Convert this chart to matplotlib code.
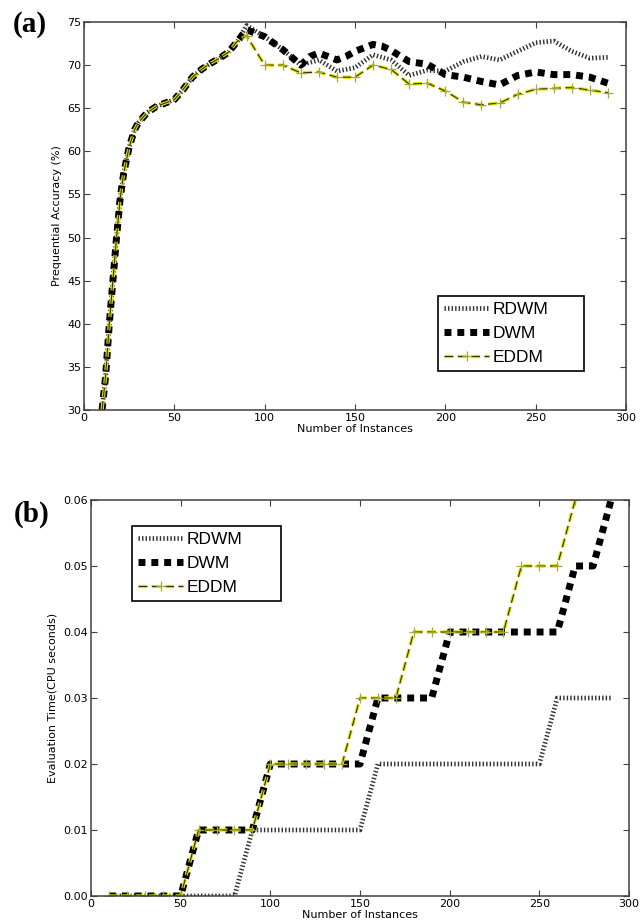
import matplotlib
matplotlib.use("Agg")
import matplotlib.pyplot as plt
from matplotlib.ticker import FormatStrFormatter

# --------------------------------------------------
# Data
# --------------------------------------------------

# shared early rise of the accuracy curves
rise_x = [10, 12, 14, 16, 18, 20, 22, 25, 28, 30, 35, 40, 45,
          50, 55, 60, 65, 70, 75, 80, 85]
rise_acc = [30.0, 34.0, 40.0, 45.0, 50.0, 54.5, 57.5, 60.5, 62.5,
            63.3, 64.5, 65.2, 65.6, 66.0, 67.2, 68.6, 69.5, 70.2,
            70.8, 71.5, 72.8]

rdwm_x = [90, 100, 110, 120, 130, 140, 150, 160, 170, 180, 190,
          200, 210, 220, 230, 240, 250, 260, 270, 280, 290]
rdwm_acc = [74.6, 73.3, 71.8, 70.0, 70.6, 69.3, 69.7, 71.2, 70.6,
            68.8, 69.4, 69.3, 70.4, 71.0, 70.6, 71.6, 72.6, 72.8,
            71.6, 70.8, 70.9]

dwm_x = [90, 100, 110, 120, 125, 130, 140, 145, 150, 160, 165, 170,
         180, 190, 200, 210, 220, 230, 240, 250, 260, 270, 280, 290]
dwm_acc = [74.1, 73.3, 71.8, 70.0, 71.0, 71.4, 70.6, 71.0, 71.6,
           72.4, 72.2, 71.7, 70.4, 70.1, 68.9, 68.6, 68.1, 67.7,
           68.8, 69.2, 68.9, 68.9, 68.6, 67.9]

eddm_x = [90, 100, 110, 120, 130, 140, 150, 160, 170, 180, 190,
          200, 210, 220, 230, 240, 250, 260, 270, 280, 290]
eddm_acc = [73.4, 70.0, 70.0, 69.1, 69.2, 68.6, 68.6, 70.0, 69.5,
            67.8, 67.9, 67.0, 65.7, 65.4, 65.6, 66.6, 67.2, 67.3,
            67.4, 67.1, 66.8]

time_x = [10, 20, 30, 40, 50, 60, 70, 80, 90, 100, 110, 120, 130,
          140, 150, 160, 170, 180, 190, 200, 210, 220, 230, 240,
          250, 260, 270, 280, 290]
rdwm_time = [0, 0, 0, 0, 0, 0, 0, 0, 0.01, 0.01, 0.01, 0.01, 0.01,
             0.01, 0.01, 0.02, 0.02, 0.02, 0.02, 0.02, 0.02, 0.02,
             0.02, 0.02, 0.02, 0.03, 0.03, 0.03, 0.03]
dwm_time = [0, 0, 0, 0, 0, 0.01, 0.01, 0.01, 0.01, 0.02, 0.02, 0.02,
            0.02, 0.02, 0.02, 0.03, 0.03, 0.03, 0.03, 0.04, 0.04,
            0.04, 0.04, 0.04, 0.04, 0.04, 0.05, 0.05, 0.06]
eddm_time = [0, 0, 0, 0, 0, 0.01, 0.01, 0.01, 0.01, 0.02, 0.02, 0.02,
             0.02, 0.02, 0.03, 0.03, 0.03, 0.04, 0.04, 0.04, 0.04,
             0.04, 0.04, 0.05, 0.05, 0.05, 0.06]

LABELS = ["RDWM", "DWM", "EDDM"]

# --------------------------------------------------
# Styles
# --------------------------------------------------

RDWM_STYLE = dict(color="0.2", linewidth=3.4, dashes=(0.3, 0.45),
                  dash_capstyle="butt")
DWM_STYLE = dict(color="black", linewidth=5.0, dashes=(1.0, 0.85),
                 dash_capstyle="butt")
# EDDM: yellow dashes with a thin dark core and "+" markers
EDDM_UNDER = dict(color="#e4e400", linewidth=2.4, dashes=(2.67, 1.33))
EDDM_CORE = dict(color="#303000", linewidth=0.8, dashes=(8, 4),
                 marker="+", markersize=7.5, markeredgewidth=0.9,
                 markeredgecolor="#a8a838")

plt.rcParams["font.family"] = "DejaVu Sans"
plt.rcParams["font.size"] = 8

fig = plt.figure(figsize=(6.41, 9.23), dpi=100)

ax1 = fig.add_axes([84 / 641, 1 - 410 / 923, 542 / 641, 388 / 923])
ax2 = fig.add_axes([91 / 641, 1 - 896 / 923, 538 / 641, 396 / 923])


def style_axes(ax):
    for s in ax.spines.values():
        s.set_linewidth(1.1)
        s.set_color("0.25")
    ax.tick_params(direction="in", top=True, right=True, length=4,
                   width=0.8, color="0.25", labelsize=8, pad=2)


def add_legend(ax, left, top, width, height, handles):
    leg = ax.legend(handles, LABELS, loc="upper left",
                    bbox_to_anchor=(left / 641, 1 - (top + height) / 923,
                                    width / 641, height / 923),
                    bbox_transform=fig.transFigure, borderaxespad=0,
                    mode="expand", fancybox=False, edgecolor="black",
                    framealpha=1,
                    prop={"family": "Liberation Sans", "size": 12.5},
                    handlelength=2.6, handletextpad=0.2, labelspacing=0.5,
                    borderpad=0.35)
    leg.get_frame().set_linewidth(1.2)
    return leg


# --------------------------------------------------
# Panel (a)
# --------------------------------------------------

ra, = ax1.plot(rise_x + rdwm_x, rise_acc + rdwm_acc, **RDWM_STYLE)
da, = ax1.plot(rise_x + dwm_x, rise_acc + dwm_acc, **DWM_STYLE)
ya, = ax1.plot(rise_x + eddm_x, rise_acc + eddm_acc, **EDDM_UNDER)
ka, = ax1.plot(rise_x + eddm_x, rise_acc + eddm_acc,
               markevery=list(range(len(rise_x), len(rise_x) + len(eddm_x))),
               **EDDM_CORE)

ax1.set_xlim(0, 300)
ax1.set_ylim(30, 75)
ax1.set_yticks(range(30, 76, 5))
ax1.set_xticks(range(0, 301, 50))
ax1.set_xlabel("Number of Instances", labelpad=1)
ax1.set_ylabel("Prequential Accuracy (%)", labelpad=4)
style_axes(ax1)

add_legend(ax1, 438, 296, 146, 78, [ra, da, (ya, ka)])

# --------------------------------------------------
# Panel (b)
# --------------------------------------------------

rb, = ax2.plot(time_x, rdwm_time, **RDWM_STYLE)
db, = ax2.plot(time_x, dwm_time, **DWM_STYLE)
yb, = ax2.plot(time_x[:len(eddm_time)], eddm_time, **EDDM_UNDER)
kb, = ax2.plot(time_x[:len(eddm_time)], eddm_time, **EDDM_CORE)

ax2.set_xlim(0, 300)
ax2.set_ylim(0, 0.06)
ax2.set_yticks([0, 0.01, 0.02, 0.03, 0.04, 0.05, 0.06])
ax2.set_xticks(range(0, 301, 50))
ax2.yaxis.set_major_formatter(FormatStrFormatter("%.2f"))
ax2.set_xlabel("Number of Instances", labelpad=1)
ax2.set_ylabel("Evaluation Time(CPU seconds)", labelpad=4)
style_axes(ax2)

add_legend(ax2, 132, 526, 149, 77, [rb, db, (yb, kb)])

# panel letters
fig.text(13 / 641, 1 - 25 / 923, "(a)", family="Liberation Serif",
         weight="bold", size=21, va="center", ha="left")
fig.text(14 / 641, 1 - 514 / 923, "(b)", family="Liberation Serif",
         weight="bold", size=21, va="center", ha="left")

fig.savefig("out.png", dpi=100)
